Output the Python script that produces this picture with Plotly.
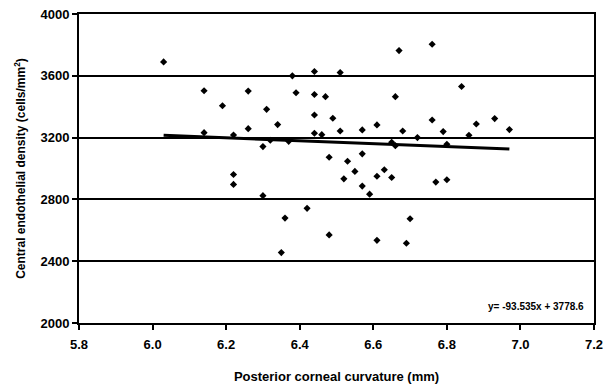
import plotly.graph_objects as go
import numpy as np

curvature = [6.03, 6.14, 6.14, 6.19, 6.26, 6.26, 6.22, 6.22, 6.22, 6.38,
             6.44, 6.51, 6.67, 6.76, 6.39, 6.44, 6.47, 6.66, 6.31, 6.44,
             6.49, 6.34, 6.61, 6.76, 6.57, 6.51, 6.68, 6.79, 6.44, 6.46,
             6.30, 6.32, 6.37, 6.72, 6.65, 6.66, 6.80, 6.48, 6.57, 6.53,
             6.55, 6.63, 6.52, 6.61, 6.65, 6.57, 6.77, 6.80, 6.30, 6.59,
             6.84, 6.88, 6.93, 6.97, 6.86, 6.36, 6.42, 6.48, 6.35, 6.61,
             6.70, 6.69]
density = [3690, 3503, 3232, 3406, 3501, 3258, 3217, 2961, 2897, 3600,
           3628, 3621, 3763, 3804, 3490, 3479, 3465, 3465, 3383, 3346,
           3325, 3284, 3282, 3314, 3250, 3243, 3243, 3239, 3228, 3219,
           3142, 3183, 3176, 3200, 3170, 3148, 3157, 3073, 3095, 3047,
           2981, 2992, 2933, 2950, 2942, 2886, 2912, 2927, 2824, 2834,
           3531, 3288, 3323, 3252, 3215, 2679, 2742, 2570, 2456, 2535,
           2675, 2516]
slope = -93.535
intercept = 3778.6
x_ticks = [5.8, 6.0, 6.2, 6.4, 6.6, 6.8, 7.0, 7.2]
y_ticks = [2000, 2400, 2800, 3200, 3600, 4000]

FONT = "Liberation Sans Narrow, Arial Narrow, Liberation Sans, Arial"

trend_x = np.array([min(curvature), max(curvature)])
trend_y = slope * trend_x + intercept

fig = go.Figure()
fig.add_trace(go.Scatter(x=curvature, y=density, mode="markers",
                         marker=dict(symbol="diamond", size=5.5, color="black"),
                         showlegend=False))
fig.add_trace(go.Scatter(x=trend_x, y=trend_y, mode="lines",
                         line=dict(color="black", width=3), showlegend=False))

fig.update_layout(
    width=605, height=384,
    margin=dict(l=79, r=11, t=14, b=61),
    paper_bgcolor="white", plot_bgcolor="white",
    font=dict(family=FONT, size=12, color="black", weight="bold"),
    xaxis=dict(range=[5.8, 7.2], tickvals=x_ticks,
               ticktext=[f"{v:.1f}" for v in x_ticks],
               showgrid=False, zeroline=False, automargin=False,
               showline=True, linecolor="black", linewidth=2, mirror=True,
               ticks="outside", ticklen=5, tickwidth=2, tickcolor="black",
               ticklabelstandoff=3,
               tickfont=dict(family=FONT, size=13, weight="bold"),
               title=dict(text="Posterior corneal curvature (mm)",
                          font=dict(family=FONT, size=13, weight="bold"),
                          standoff=22)),
    yaxis=dict(range=[2000, 4000], tickvals=y_ticks,
               showgrid=True, gridcolor="black", gridwidth=1.5, zeroline=False,
               automargin=False,
               showline=True, linecolor="black", linewidth=2, mirror=True,
               ticks="outside", ticklen=5, tickwidth=1.5, tickcolor="black",
               tickfont=dict(family=FONT, size=13, weight="bold"),
               title=dict(text="Central endothelial density (cells/mm<sup>2</sup>)",
                          font=dict(family=FONT, size=12, weight="bold"),
                          standoff=12)),
    annotations=[dict(x=0.985, y=0.052, xref="paper", yref="paper",
                      xanchor="right", yanchor="middle", showarrow=False,
                      text="y= -93.535x + 3778.6",
                      font=dict(family=FONT, size=10, weight="bold"))],
)

fig.write_html("out.html")
